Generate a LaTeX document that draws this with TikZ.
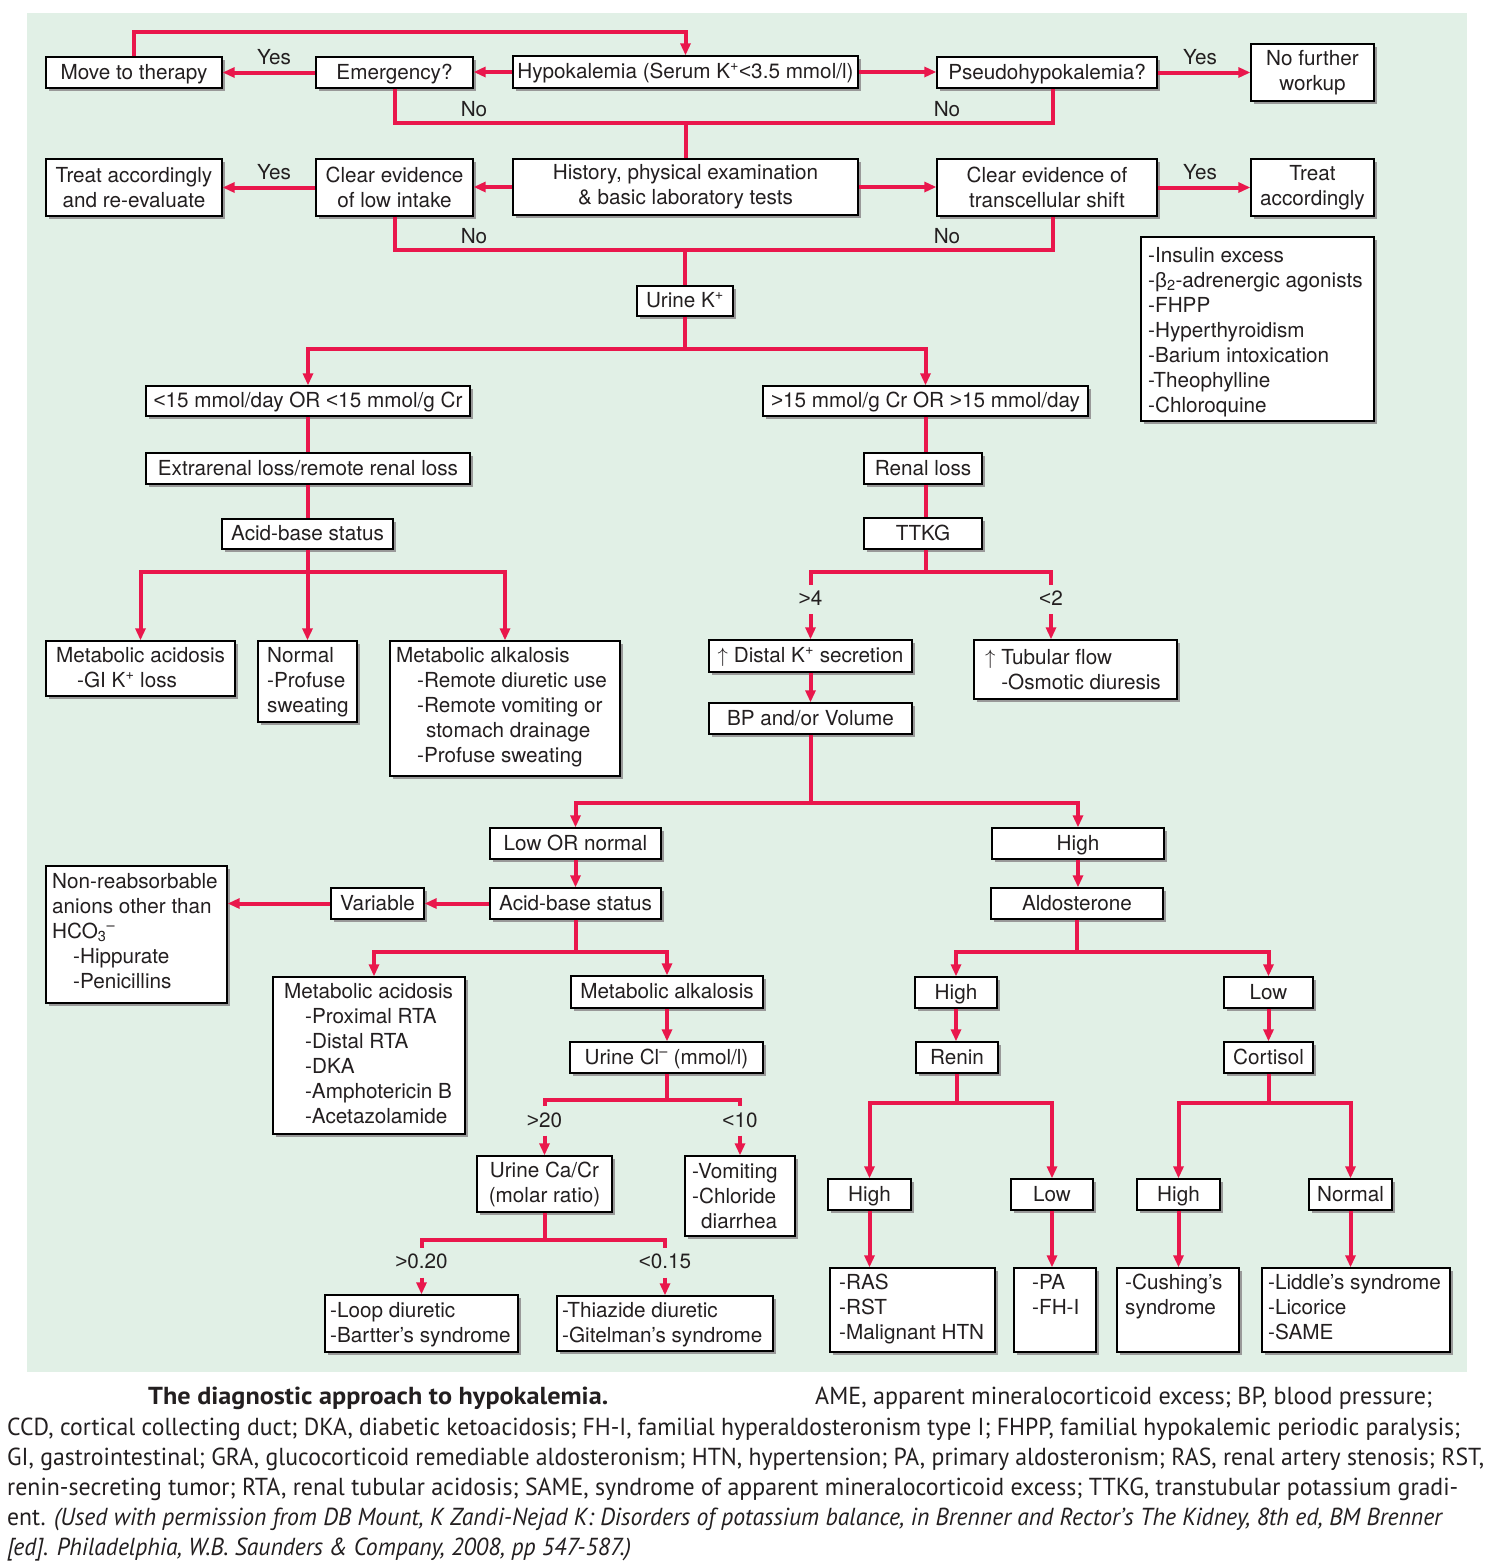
\documentclass[tikz,border=0pt]{standalone}
\usepackage{fontspec}
\usepackage{graphicx}
\setmainfont{TeX Gyre Heros}
\newfontfamily\capfont{PT Sans}
\newfontfamily\grk{Liberation Sans}
\newcommand\lessT{{\grk<}}
\newcommand\grtT{{\grk>}}
\usetikzlibrary{arrows.meta,shadows}
\definecolor{bg}{RGB}{225,240,230}
\definecolor{rd}{RGB}{233,23,76}
\definecolor{txc}{RGB}{35,31,32}
\newcommand\dfont{\fontsize{20.7}{25}\selectfont}
\newcommand\Bx[7][]{%
 \pgfmathsetmacro\bxw{#5-#3}\pgfmathsetmacro\bxh{#6-#4}%
 \pgfmathsetmacro\bxcx{(#3+#5)/2}\pgfmathsetmacro\bxcy{(#4+#6)/2}%
 \node[box,minimum width=\bxw pt,minimum height=\bxh pt,#1] (#2) at (\bxcx,\bxcy) {#7};}
\begin{document}
\begin{tikzpicture}[x=1pt,y=-1pt,
 box/.style={draw=black,line width=1.3pt,fill=white,general shadow={fill=black!40,shadow xshift=3pt,shadow yshift=-3pt},inner sep=0pt,font=\dfont,text=txc,align=center},
 one/.style={text height=15pt,text depth=2pt},
 txt/.style={inner sep=0pt,font=\dfont,text=txc,align=left,anchor=north west},
 lab/.style={inner sep=0pt,font=\dfont,text=txc,anchor=base},
 captxt/.style={inner sep=0pt,font=\capfont\fontsize{24.6}{30}\selectfont,text=txc,anchor=base west},
 ln/.style={draw=rd,line width=4pt,line join=miter},
 ar/.style={ln,-{Triangle[length=12pt,width=10pt]}},
 ar2/.style={ln,{Triangle[length=12pt,width=10pt]}-{Triangle[length=12pt,width=10pt]}},
]
\fill[white] (0,0) rectangle (1490,1566);
\fill[bg] (27,13) rectangle (1467,1372);
\useasboundingbox (0,0) rectangle (1490,1566);

% row 1
\Bx[one]{mt}{46}{57}{222}{88}{Move to therapy}
\Bx[one]{em}{316}{57}{473}{88}{Emergency?}
\Bx[one]{hk}{513}{56}{858}{88}{Hypokalemia (Serum K\textsuperscript{+}\lessT3.5 mmol/l)}
\Bx[one]{ps}{937}{57}{1157}{88}{Pseudohypokalemia?}
\Bx{nf}{1251}{44}{1374}{101}{No further\\workup}
% row 2
\Bx{ta}{46}{159}{222}{216}{Treat accordingly\\and re-evaluate}
\Bx{li}{316}{159}{473}{216}{Clear evidence\\of low intake}
\Bx{hi}{513}{159}{858}{215}{History, physical examination\\\& basic laboratory tests}
\Bx{ts}{937}{159}{1157}{216}{Clear evidence of\\transcellular shift}
\Bx{tr}{1251}{159}{1374}{216}{Treat\\accordingly}
\Bx[one]{uk}{637}{286}{733}{316}{Urine K\textsuperscript{+}}
\Bx{ins}{1141}{237}{1374}{421}{}
\node[txt] (insT) at (1148,247) {-Insulin excess\\-{\grk β}\textsubscript{2}-adrenergic agonists\\-FHPP\\-Hyperthyroidism\\-Barium intoxication\\-Theophylline\\-Chloroquine};
\Bx[one]{lo}{146}{386}{470}{416}{\lessT15 mmol/day OR \lessT15 mmol/g Cr}
\Bx[one]{hf}{763}{386}{1088}{416}{\grtT15 mmol/g Cr OR \grtT15 mmol/day}
\Bx[one]{ex}{146}{453}{470}{484}{Extrarenal loss/remote renal loss}
\Bx[one]{rl}{864}{453}{982}{484}{Renal loss}
\Bx[one]{ab}{222}{519}{393}{549}{Acid-base status}
\Bx[one]{tk}{864}{518}{982}{549}{TTKG}
\Bx{mac}{46}{641}{235}{696}{}
\node[txt] (macT) at (56,647) {Metabolic acidosis\\\hspace*{21pt}-GI K\textsuperscript{+} loss};
\Bx{nor}{258}{641}{357}{722}{}
\node[txt] (norT) at (267,647) {Normal\\-Profuse\\sweating};
\Bx{mal}{390}{641}{620}{776}{}
\node[txt] (malT) at (396,647) {Metabolic alkalosis\\\hspace*{21pt}-Remote diuretic use\\\hspace*{21pt}-Remote vomiting or\\\hspace*{30pt}stomach drainage\\\hspace*{21pt}-Profuse sweating};
\Bx[one]{ds}{709}{640}{912}{672}{$\uparrow$ Distal K\textsuperscript{+} secretion}
\Bx{tf}{974}{640}{1177}{699}{}
\node[txt] (tfT) at (985,649) {$\uparrow$ Tubular flow\\\phantom{$\uparrow$ }-Osmotic diuresis};
\Bx[one]{bp}{709}{703}{912}{734}{BP and/or Volume}
\Bx[one]{lon}{490}{828}{661}{859}{Low OR normal}
\Bx[one]{hg}{992}{828}{1164}{859}{High}
\Bx[one]{ab2}{490}{888}{661}{919}{Acid-base status}
\Bx[one]{al}{991}{888}{1163}{919}{Aldosterone}
\Bx[one]{va}{331}{888}{424}{919}{Variable}
\Bx{nr}{46}{866}{227}{1003}{}
\node[txt] (nrT) at (52,873) {Non-reabsorbable\\anions other than\\HCO\textsubscript{3}\textsuperscript{–}\\\hspace*{21pt}-Hippurate\\\hspace*{21pt}-Penicillins};
\Bx{ma2}{273}{977}{465}{1134}{}
\node[txt] (ma2T) at (284,983) {Metabolic acidosis\\\hspace*{21pt}-Proximal RTA\\\hspace*{21pt}-Distal RTA\\\hspace*{21pt}-DKA\\\hspace*{21pt}-Amphotericin B\\\hspace*{21pt}-Acetazolamide};
\Bx[one]{mk}{571}{976}{763}{1008}{Metabolic alkalosis}
\Bx[one]{uc}{570}{1042}{763}{1073}{Urine Cl\textsuperscript{–} (mmol/l)}
\Bx{ca}{477}{1156}{612}{1212}{Urine Ca/Cr\\(molar ratio)}
\Bx{vo}{685}{1156}{795}{1236}{}
\node[txt] (voT) at (692,1163) {-Vomiting\\-Chloride\\\hspace*{9pt}diarrhea};
\Bx{ld}{325}{1295}{518}{1352}{}
\node[txt] (ldT) at (330,1302) {-Loop diuretic\\-Bartter’s syndrome};
\Bx{th}{557}{1296}{773}{1351}{}
\node[txt] (thT) at (562,1302) {-Thiazide diuretic\\-Gitelman’s syndrome};
\Bx[one]{ah}{915}{977}{997}{1008}{High}
\Bx[one]{alw}{1224}{977}{1313}{1008}{Low}
\Bx[one]{rn}{916}{1042}{998}{1073}{Renin}
\Bx[one]{co}{1224}{1042}{1313}{1073}{Cortisol}
\Bx[one]{rh}{828}{1179}{911}{1210}{High}
\Bx[one]{rlw}{1011}{1179}{1093}{1210}{Low}
\Bx[one]{chg}{1137}{1179}{1220}{1210}{High}
\Bx[one]{cn}{1309}{1179}{1392}{1210}{Normal}
\Bx{ras}{830}{1268}{995}{1352}{}
\node[txt] (rasT) at (839,1274) {-RAS\\-RST\\-Malignant HTN};
\Bx{pa}{1014}{1268}{1096}{1352}{}
\node[txt] (paT) at (1032,1274) {-PA\\-FH-I};
\Bx{cu}{1117}{1268}{1239}{1352}{}
\node[txt] (cuT) at (1125,1274) {-Cushing’s\\syndrome};
\Bx{lid}{1262}{1268}{1450}{1352}{}
\node[txt] (lidT) at (1268,1274) {-Liddle’s syndrome\\-Licorice\\-SAME};

% labels
\node[lab] (y1) at (274,64) {Yes};
\node[lab] (y2) at (1200,64) {Yes};
\node[lab] (y3) at (274,179) {Yes};
\node[lab] (y4) at (1200,179) {Yes};
\node[lab] (n1) at (474,116) {No};
\node[lab] (n2) at (947,116) {No};
\node[lab] (n3) at (474,243) {No};
\node[lab] (n4) at (947,243) {No};
\node[lab] (g4) at (810.5,605.5) {\grtT4};
\node[lab] (l2) at (1051,605.5) {\lessT2};
\node[lab] (g20) at (544.5,1127) {\grtT20};
\node[lab] (l10) at (740,1127) {\lessT10};
\node[lab] (g02) at (421.5,1268.5) {\grtT0.20};
\node[lab] (l015) at (665,1268.5) {\lessT0.15};

% connectors
\coordinate (lp) at (134,32);
\draw[ar] (mt.north) -- (lp) -| (hk.north);
\draw[ar] (em.west) -- (mt.east);
\draw[ar] (hk.west) -- (hk.west -| em.east);
\draw[ar] (hk.east) -- (hk.east -| ps.west);
\draw[ar] (ps.east) -- (ps.east -| nf.west);
\coordinate (r1) at (1053,123);
\draw[ln] (em.south) |- (r1) -- (r1 |- ps.south);
\draw[ln] (hi.north) -- (hi.north |- r1);
\draw[ar] (hi.west) -- (hi.west -| li.east);
\draw[ar] (li.west) -- (li.west -| ta.east);
\draw[ar] (hi.east) -- (hi.east -| ts.west);
\draw[ar] (ts.east) -- (ts.east -| tr.west);
\coordinate (r2) at (1053,250);
\draw[ln] (li.south) |- (r2) -- (r2 |- ts.south);
\draw[ln] (uk.north) -- (uk.north |- r2);
\coordinate (s1) at (685,349);
\draw[ln] (uk.south) -- (s1);
\draw[ar2] (lo.north) |- (s1) -| (hf.north);
\draw[ln] (lo.south) -- (ex.north);
\draw[ln] (ex.south) -- (ex.south |- ab.north);
\draw[ln] (hf.south) -- (hf.south |- rl.north);
\draw[ln] (hf.south |- rl.south) -- (hf.south |- tk.north);
\coordinate (s2) at (307.5,572);
\draw[ln] (ab.south) -- (s2);
\draw[ar2] (mac.north) |- (s2) -| (mal.north);
\draw[ar] (s2) -- (s2 |- nor.north);
\coordinate (s3) at (925.5,572);
\draw[ln] (hf.south |- tk.south) -- (s3);
\draw[ln] ([yshift=6pt]g4.north) |- (s3) -| ([yshift=6pt]l2.north);
\draw[ar] ([yshift=-8.5pt]g4.south) -- (g4.south |- ds.north);
\draw[ar] ([yshift=-8.5pt]l2.south) -- (l2.south |- tf.north);
\draw[ar] (ds.south) -- (bp.north);
\coordinate (s4) at (810.5,803);
\draw[ln] (bp.south) -- (s4);
\draw[ar2] (lon.north) |- (s4) -| (hg.north);
\draw[ar] (lon.south) -- (ab2.north);
\draw[ar] (hg.south) -- (hg.south |- al.north);
\draw[ar] (ab2.west) -- (ab2.west -| va.east);
\draw[ar] (va.west) -- (va.west -| nr.east);
\coordinate (s5) at (575.5,952);
\draw[ln] (ab2.south) -- (s5);
\draw[ar2] ([xshift=5pt]ma2.north) |- (s5) -| (mk.north);
\draw[ar] (mk.south) -- (mk.south |- uc.north);
\coordinate (s6) at (666.5,1100);
\draw[ln] (uc.south) -- (s6);
\draw[ln] ([yshift=6pt]g20.north) |- (s6) -| ([yshift=6pt]l10.north);
\draw[ar] ([yshift=-8pt]g20.south) -- (g20.south |- ca.north);
\draw[ar] ([yshift=-8pt]l10.south) -- (l10.south |- vo.north);
\coordinate (s7) at (544.5,1240);
\draw[ln] (ca.south) -- (s7);
\draw[ln] ([yshift=6pt]g02.north) |- (s7) -| ([yshift=6pt]l015.north);
\draw[ar] ([yshift=-8.5pt]g02.south) -- (g02.south |- ld.north);
\draw[ar] ([yshift=-8.5pt]l015.south) -- (l015.south |- th.north);
\coordinate (s8) at (1077,952);
\draw[ln] (al.south) -- (s8);
\draw[ar2] (ah.north) |- (s8) -| (alw.north);
\draw[ar] (ah.south) -- (ah.south |- rn.north);
\draw[ar] (alw.south) -- (alw.south |- co.north);
\coordinate (s9) at (957,1103);
\draw[ln] (rn.south) -- (s9);
\draw[ar2] (rh.north) |- (s9) -| (rlw.north);
\coordinate (s10) at (1268.5,1103);
\draw[ln] (co.south) -- (s10);
\draw[ar2] (chg.north) |- (s10) -| (cn.north);
\draw[ar] (rh.south) -- (rh.south |- ras.north);
\draw[ar] (rlw.south) -- (rlw.south |- pa.north);
\draw[ar] (chg.south) -- (chg.south |- cu.north);
\draw[ar] (cn.south) -- (cn.south |- lid.north);

% caption
\node[captxt] (c1a) at (148,1404) {\resizebox{460pt}{\height}{\bfseries The diagnostic approach to hypokalemia.}};
\node[captxt] (c1b) at (815,1404) {\resizebox{617pt}{\height}{AME, apparent mineralocorticoid excess; BP, blood pressure;}};
\node[captxt] (c2) at (7,1435.5) {\resizebox{1453pt}{\height}{CCD, cortical collecting duct; DKA, diabetic ketoacidosis; FH-I, familial hyperaldosteronism type I; FHPP, familial hypokalemic periodic paralysis;}};
\node[captxt] (c3) at (7,1465.5) {\resizebox{1477pt}{\height}{GI, gastrointestinal; GRA, glucocorticoid remediable aldosteronism; HTN, hypertension; PA, primary aldosteronism; RAS, renal artery stenosis; RST,}};
\node[captxt] (c4) at (7,1495.5) {\resizebox{1451pt}{\height}{renin-secreting tumor; RTA, renal tubular acidosis; SAME, syndrome of apparent mineralocorticoid excess; TTKG, transtubular potassium gradi-}};
\node[captxt] (c5) at (7,1525.5) {\resizebox{1436pt}{\height}{ent. \textit{(Used with permission from DB Mount, K Zandi-Nejad K: Disorders of potassium balance, in Brenner and Rector’s The Kidney, 8th ed, BM Brenner}}};
\node[captxt] (c6) at (7,1555) {\resizebox{624pt}{\height}{\itshape [ed]. Philadelphia, W.B. Saunders \& Company, 2008, pp 547-587.)}};
\end{tikzpicture}
\end{document}
